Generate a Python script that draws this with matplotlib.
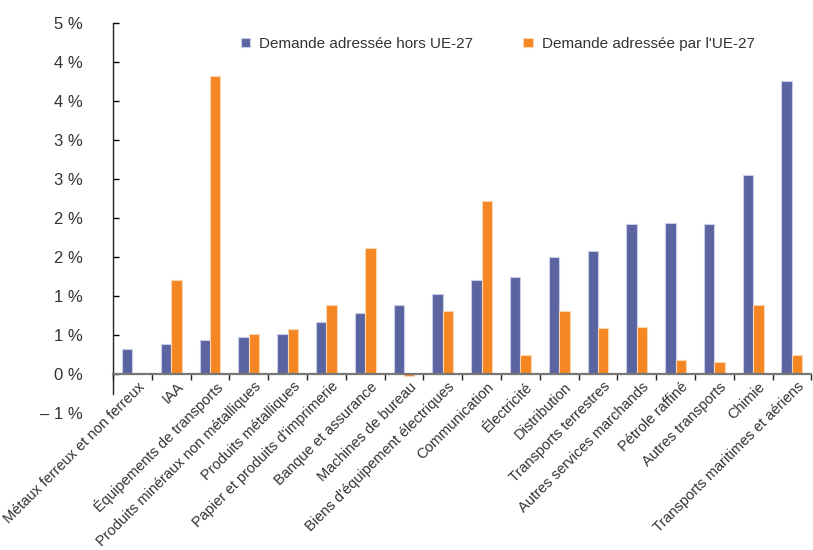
import numpy as np
import matplotlib
matplotlib.use("Agg")
import matplotlib.pyplot as plt
import matplotlib.transforms as mtransforms
from matplotlib.ticker import FixedLocator, FixedFormatter

plt.rcParams['font.family'] = ['Liberation Sans', 'DejaVu Sans']

# Data (growth, %)
categories = [
    "Métaux ferreux et non ferreux", "IAA", "Équipements de transports",
    "Produits minéraux non métalliques", "Produits métalliques",
    "Papier et produits d'imprimerie", "Banque et assurance",
    "Machines de bureau", "Biens d'équipement électriques", "Communication",
    "Électricité", "Distribution", "Transports terrestres",
    "Autres services marchands", "Pétrole raffiné", "Autres transports",
    "Chimie", "Transports maritimes et aériens",
]
hors_ue = [0.32, 0.38, 0.44, 0.47, 0.515, 0.67, 0.78, 0.89, 1.03, 1.20,
           1.245, 1.50, 1.58, 1.92, 1.935, 1.93, 2.55, 3.76]
par_ue = [0.01, 1.20, 3.82, 0.52, 0.58, 0.88, 1.61, -0.03, 0.81, 2.22,
          0.25, 0.81, 0.59, 0.60, 0.18, 0.15, 0.89, 0.24]
series_names = ["Demande adressée hors UE-27", "Demande adressée par l'UE-27"]
ytick_vals = [-0.5, 0, 0.5, 1, 1.5, 2, 2.5, 3, 3.5, 4, 4.5]
ytick_labels = ["– 1 %", "0 %", "1 %", "1 %", "2 %", "2 %", "3 %", "3 %",
                "4 %", "4 %", "5 %"]

blue = "#5A64A0"
orange = "#F48624"
text_col = "#333333"

fig = plt.figure(figsize=(8.13, 5.5), dpi=100)
ax = fig.add_axes([0.139, 0.249, 0.859, 0.709])

x = np.arange(len(categories))
w = 0.27
ax.bar(x - w / 2, hors_ue, w, color=blue, edgecolor="#C9CDE6", linewidth=0.8,
       label=series_names[0])
ax.bar(x + w / 2, par_ue, w, color=orange, edgecolor="#FCD6B0", linewidth=0.8,
       label=series_names[1])

ax.set_xlim(-0.5, len(categories) - 0.5)
ax.set_ylim(-0.5, 4.5)

# axes styling
for s in ["top", "right"]:
    ax.spines[s].set_visible(False)
ax.spines["left"].set_bounds(-0.25, 4.5)
ax.spines["left"].set_color("#222222")
ax.spines["left"].set_linewidth(1.0)
ax.spines["bottom"].set_position(("data", 0))
ax.spines["bottom"].set_color("#777777")
ax.spines["bottom"].set_linewidth(1.6)

ax.yaxis.set_major_locator(FixedLocator(ytick_vals))
ax.yaxis.set_major_formatter(FixedFormatter(ytick_labels))
ax.tick_params(axis="y", direction="in", length=4, width=1, pad=22,
               labelsize=12, labelcolor=text_col)
ax.yaxis.get_major_ticks()[0].tick1line.set_visible(False)

ax.set_xticks(x)
ax.set_xticklabels(categories, rotation=45, ha="right", rotation_mode="anchor",
                   fontsize=10.5, color=text_col)
ax.set_xticks(np.arange(len(categories) + 1) - 0.5, minor=True)
ax.tick_params(axis="x", which="major", length=0, pad=4)
ax.tick_params(axis="x", which="minor", direction="out", length=4, width=1,
               color="#222222")
offset = mtransforms.ScaledTranslation(5 / 100, 0, fig.dpi_scale_trans)
for lab in ax.get_xticklabels():
    lab.set_transform(lab.get_transform() + offset)

ax.legend(loc="upper left", bbox_to_anchor=(0.163, 1.0), ncol=2, frameon=False,
          fontsize=11, handlelength=0.6, handleheight=0.6, handletextpad=0.6,
          columnspacing=3.3, labelcolor=text_col)

fig.savefig("out.png", dpi=100)
